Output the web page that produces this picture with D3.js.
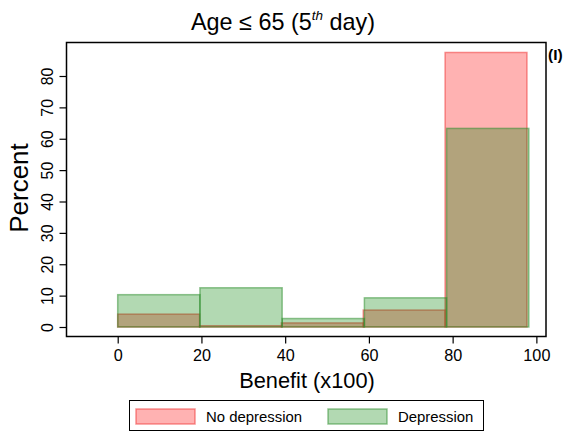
<!DOCTYPE html>
<html>
<head>
<meta charset="utf-8">
<script src="https://cdn.jsdelivr.net/npm/d3@7/dist/d3.min.js"></script>
<style>
  html, body { margin: 0; padding: 0; background: #fff; }
  svg { display: block; font-family: "Liberation Sans", Arial, sans-serif; }
</style>
</head>
<body>
<svg id="chart" width="569" height="433"></svg>
<script>
// Histogram of benefit (x100) by depression status, percent per bin
const groups = ["No depression", "Depression"];
const noDepEdges = [0, 19.55, 39.1, 58.65, 78.2, 97.75];
const noDepPercent = [4.1, 0.4, 1.3, 5.4, 87.5];
const depEdges = [0, 19.64, 39.28, 58.92, 78.56, 98.2];
const depPercent = [10.3, 12.5, 2.7, 9.3, 63.3];
const xTicks = [0, 20, 40, 60, 80, 100];
const yTicks = [0, 10, 20, 30, 40, 50, 60, 70, 80];

const fills = ["rgba(255,0,0,0.3)", "rgba(0,128,0,0.3)"];
const strokes = ["rgba(240,60,60,0.55)", "rgba(40,140,40,0.5)"];

const svg = d3.select("#chart");
const plot = { left: 66.5, top: 42.5, right: 546, bottom: 336.5 };

const x = d3.scaleLinear().domain([-12.23, 102.3]).range([plot.left, plot.right]);
const y = d3.scaleLinear().domain([0, 80]).range([327, 76]);

// bins for each group
function toBins(edges, vals) {
  return vals.map((v, i) => ({ x0: edges[i], x1: edges[i + 1], v }));
}
const series = [toBins(noDepEdges, noDepPercent), toBins(depEdges, depPercent)];

// bars: no-depression first, depression drawn over it
series.forEach((bins, gi) => {
  svg.append("g")
    .selectAll("rect")
    .data(bins)
    .join("rect")
    .attr("x", d => x(d.x0))
    .attr("width", d => x(d.x1) - x(d.x0))
    .attr("y", d => y(d.v))
    .attr("height", d => y(0) - y(d.v))
    .attr("fill", fills[gi])
    .attr("stroke", strokes[gi])
    .attr("stroke-width", 1.5);
});

// plot frame
svg.append("rect")
  .attr("x", plot.left).attr("y", plot.top)
  .attr("width", plot.right - plot.left).attr("height", plot.bottom - plot.top)
  .attr("fill", "none").attr("stroke", "#000").attr("stroke-width", 1.5);

// x axis
const xAxis = svg.append("g")
  .attr("transform", `translate(0,${plot.bottom})`)
  .call(d3.axisBottom(x).tickValues(xTicks).tickSize(7).tickPadding(6));
xAxis.select(".domain").remove();
xAxis.selectAll("line").attr("stroke", "#000").attr("stroke-width", 1.2);
xAxis.selectAll("text").attr("font-size", 16.2).attr("fill", "#000")
  .attr("font-family", "Liberation Sans, Arial, sans-serif");

// y axis with rotated labels
const yAxis = svg.append("g")
  .attr("transform", `translate(${plot.left},0)`)
  .call(d3.axisLeft(y).tickValues(yTicks).tickSize(7).tickPadding(6));
yAxis.select(".domain").remove();
yAxis.selectAll("line").attr("stroke", "#000").attr("stroke-width", 1.2);
yAxis.selectAll("text")
  .attr("font-size", 15.8).attr("fill", "#000")
  .attr("font-family", "Liberation Sans, Arial, sans-serif")
  .attr("x", null).attr("dy", null)
  .attr("text-anchor", "middle")
  .attr("transform", "translate(-19,0) rotate(-90)")
  .attr("dy", "0.35em");

// title with superscript
const title = svg.append("text")
  .attr("x", 283).attr("y", 30)
  .attr("text-anchor", "middle")
  .attr("font-size", 23.4).attr("fill", "#000");
title.append("tspan").text("Age ≤ 65 (5");
title.append("tspan").text("th").attr("font-size", 13.5).attr("font-style", "italic")
  .attr("dy", -10);
title.append("tspan").text(" day)").attr("dy", 10);

// panel tag
svg.append("text")
  .attr("x", 548).attr("y", 60)
  .attr("font-size", 15.5).attr("font-weight", "bold").attr("fill", "#000")
  .text("(I)");

// axis titles
svg.append("text")
  .attr("x", 307).attr("y", 387.7)
  .attr("text-anchor", "middle")
  .attr("font-size", 21.8).attr("fill", "#000")
  .text("Benefit (x100)");

svg.append("text")
  .attr("transform", "translate(28,188) rotate(-90)")
  .attr("text-anchor", "middle")
  .attr("font-size", 26).attr("fill", "#000")
  .text("Percent");

// legend
const legend = svg.append("g");
legend.append("rect")
  .attr("x", 129.5).attr("y", 400.5).attr("width", 354).attr("height", 30)
  .attr("fill", "#fff").attr("stroke", "#000").attr("stroke-width", 1);
const legX = [136, 328];
const legTextX = [206, 398];
groups.forEach((g, i) => {
  legend.append("rect")
    .attr("x", legX[i]).attr("y", 409).attr("width", 59).attr("height", 15)
    .attr("fill", fills[i]).attr("stroke", strokes[i]).attr("stroke-width", 1.5);
  legend.append("text")
    .attr("x", legTextX[i]).attr("y", 421.5)
    .attr("font-size", 14.9).attr("fill", "#000")
    .text(g);
});
</script>
</body>
</html>
